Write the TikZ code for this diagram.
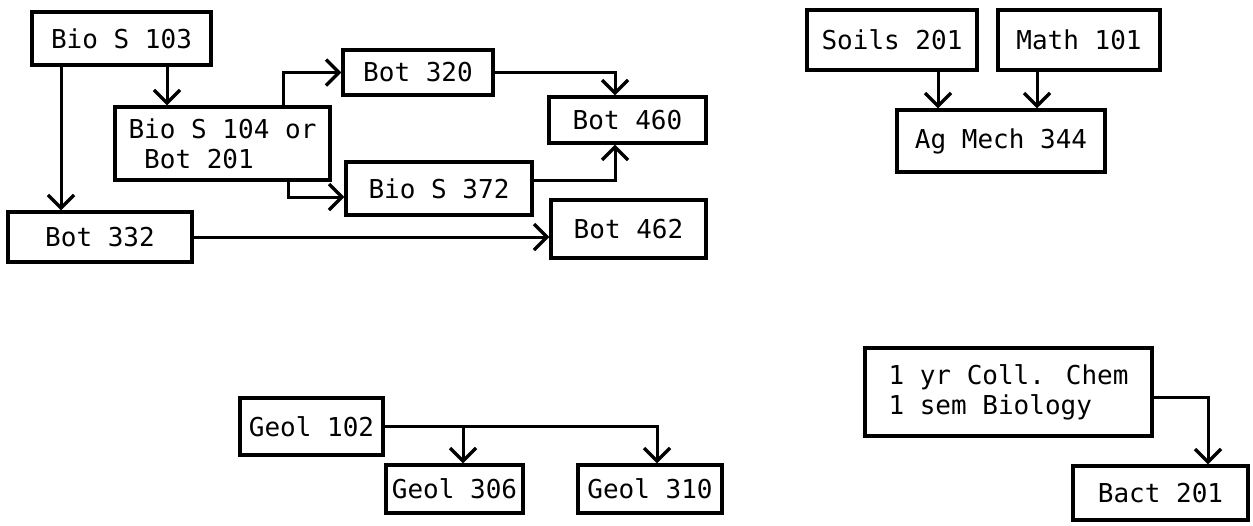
\documentclass[tikz,border=0pt]{standalone}
\usepackage{fontspec}
\newfontfamily\typer{DejaVu Sans Mono}
\usetikzlibrary{positioning, arrows.meta}

\begin{document}
\begin{tikzpicture}[
    x=1pt, y=-1pt, % y grows downwards, like the scan
    node distance=17.8pt and 17.8pt,
    every node/.style={font=\typer\fontsize{26}{30}\selectfont},
    course/.style={draw, line width=3.2pt, inner sep=0pt, align=left},
    arr/.style={line width=3pt, -{Straight Barb[length=13pt,width=26pt,line width=3.4pt]}}
]
    \useasboundingbox (0,0) rectangle (1253,525);

    % Place the nodes
    \node[course, minimum width=179pt, minimum height=53pt] (bio103) at (121.5,38.5) {Bio S 103};
    \node[course, minimum width=215pt, minimum height=73pt] (bio104) at (222.5,143.5) {Bio S 104 or\\\hphantom{B}Bot 201};
    \node[course, minimum width=150pt, minimum height=45pt] (bot320) at (418,72.5) {Bot 320};
    \node[course, minimum width=157pt, minimum height=46pt] (bot460) at (627.5,120) {Bot 460};
    \node[course, minimum width=186pt, minimum height=53pt] (bio372) at (439,188.5) {Bio S 372};
    \node[course, minimum width=155pt, minimum height=58pt] (bot462) at (628.5,229) {Bot 462};
    \node[course, minimum width=184pt, minimum height=50pt] (bot332) at (100,237) {Bot 332};

    \node[course, minimum width=170pt, minimum height=60pt] (soils201) at (892,40) {Soils 201};
    \node[course, minimum width=162pt, minimum height=60pt] (math101) [right=of soils201] {Math 101};
    \node[course, minimum width=208pt, minimum height=62pt] (agmech344) at (1001,141) {Ag Mech 344};

    \node[course, minimum width=143pt, minimum height=57pt] (geol102) at (311.5,426.5) {Geol 102};
    \node[course, minimum width=137pt, minimum height=48pt] (geol306) at (454.5,489) {Geol 306};
    \node[course, minimum width=144pt, minimum height=48pt] (geol310) [right=51.8pt of geol306] {Geol 310};

    \node[course, minimum width=287pt, minimum height=88pt] (chem) at (1008.5,392) {1 yr Coll. Chem\\1 sem Biology};
    \node[course, minimum width=175pt, minimum height=54pt] (bact201) at (1160.5,493) {Bact 201};

    % Draw the edges
    \draw[arr] ([xshift=45.5pt]bio103.south) -- ([xshift=45.5pt]bio103.south |- bio104.north);
    \draw[arr] ([xshift=-39pt]bot332.north |- bio103.south) -- ([xshift=-39pt]bot332.north);
    \draw[arr] ([xshift=60.5pt]bio104.north) |- (bot320.west);
    \draw[arr] ([xshift=65.5pt]bio104.south) |- ([yshift=-8.5pt]bio372.west);
    \draw[arr] (bot320.east) -| ([xshift=-12.5pt]bot460.north);
    \draw[arr] ([yshift=8pt]bio372.east) -| ([xshift=-12.5pt]bot460.south);
    \draw[arr] (bot332.east) -- (bot332.east -| bot462.west);

    \draw[arr] ([xshift=46pt]soils201.south) -- ([xshift=46pt]soils201.south |- agmech344.north);
    \draw[arr] ([xshift=-42pt]math101.south) -- ([xshift=-42pt]math101.south |- agmech344.north);

    \draw[arr] (geol102.east) -| ([xshift=8.5pt]geol306.north);
    \draw[arr] (geol102.east) -| ([xshift=7pt]geol310.north);

    \draw[arr] ([yshift=-5pt]chem.east) -| ([xshift=47.5pt]bact201.north);
\end{tikzpicture}
\end{document}
